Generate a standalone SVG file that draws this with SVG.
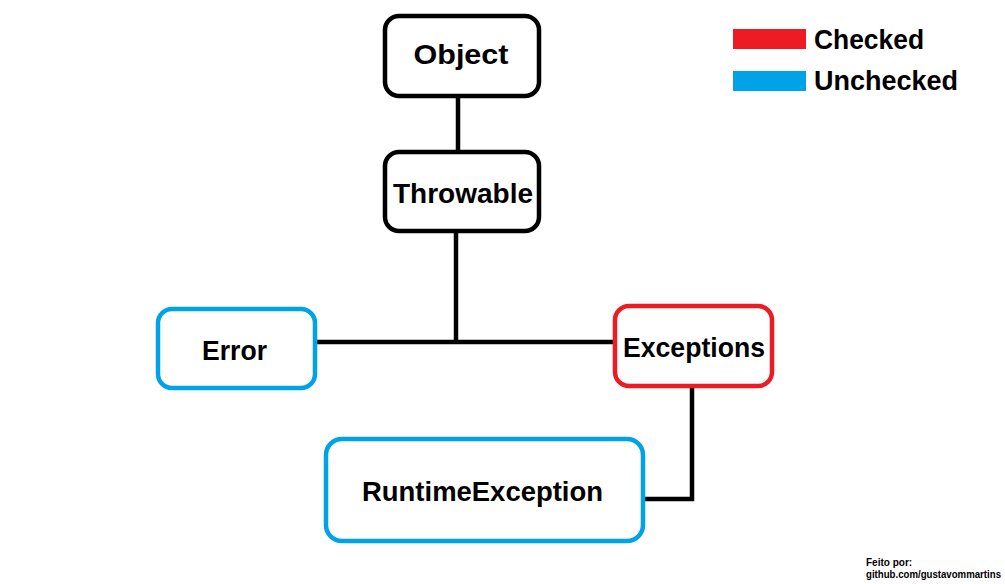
<svg xmlns="http://www.w3.org/2000/svg" width="1005" height="584" viewBox="0 0 1005 584">
<style>
.box{fill:#fff;stroke-width:4.5}
.k{stroke:#000}
.r{stroke:#ED1C24}
.b{stroke:#00A2E8}
.t{font-family:"Liberation Sans",Arial,sans-serif;font-weight:bold;fill:#000}
.lbl{font-size:28px}
.conn{fill:none;stroke:#000;stroke-width:4.5}
</style>
<rect width="1005" height="584" fill="#fff"/>
<g id="connectors">
<line class="conn" x1="458" y1="96" x2="458" y2="152"/>
<line class="conn" x1="456" y1="231" x2="456" y2="342"/>
<line class="conn" x1="316" y1="342" x2="614" y2="342"/>
<polyline class="conn" points="692,387 692,499 644,499"/>
</g>
<g id="object">
<rect class="box k" x="385" y="16" width="154" height="80" rx="14"/>
<text class="t lbl" x="461" y="64" text-anchor="middle" textLength="95" lengthAdjust="spacingAndGlyphs">Object</text>
</g>
<g id="throwable">
<rect class="box k" x="385" y="152" width="154" height="79" rx="14"/>
<text class="t lbl" x="463" y="203" text-anchor="middle" textLength="140" lengthAdjust="spacingAndGlyphs">Throwable</text>
</g>
<g id="error">
<rect class="box b" x="158" y="309" width="157" height="79" rx="14"/>
<text class="t lbl" x="234.5" y="360" text-anchor="middle" textLength="65" lengthAdjust="spacingAndGlyphs">Error</text>
</g>
<g id="exceptions">
<rect class="box r" x="615" y="306" width="157" height="80" rx="14"/>
<text class="t lbl" x="694" y="357" text-anchor="middle" textLength="142" lengthAdjust="spacingAndGlyphs">Exceptions</text>
</g>
<g id="runtimeexception">
<rect class="box b" x="326" y="439" width="317" height="102" rx="16"/>
<text class="t lbl" x="482.5" y="501" text-anchor="middle" textLength="241" lengthAdjust="spacingAndGlyphs">RuntimeException</text>
</g>
<g id="legend">
<rect x="733" y="29" width="73" height="20" fill="#ED1C24"/>
<rect x="733" y="71" width="73" height="20" fill="#00A2E8"/>
<text class="t lbl" x="814" y="49" textLength="110" lengthAdjust="spacingAndGlyphs">Checked</text>
<text class="t lbl" x="814" y="90" textLength="144" lengthAdjust="spacingAndGlyphs">Unchecked</text>
</g>
<g id="credit">
<text class="t" x="866" y="566" font-size="10">Feito por:</text>
<text class="t" x="866" y="578" font-size="10" textLength="135" lengthAdjust="spacingAndGlyphs">github.com/gustavommartins</text>
</g>
</svg>
